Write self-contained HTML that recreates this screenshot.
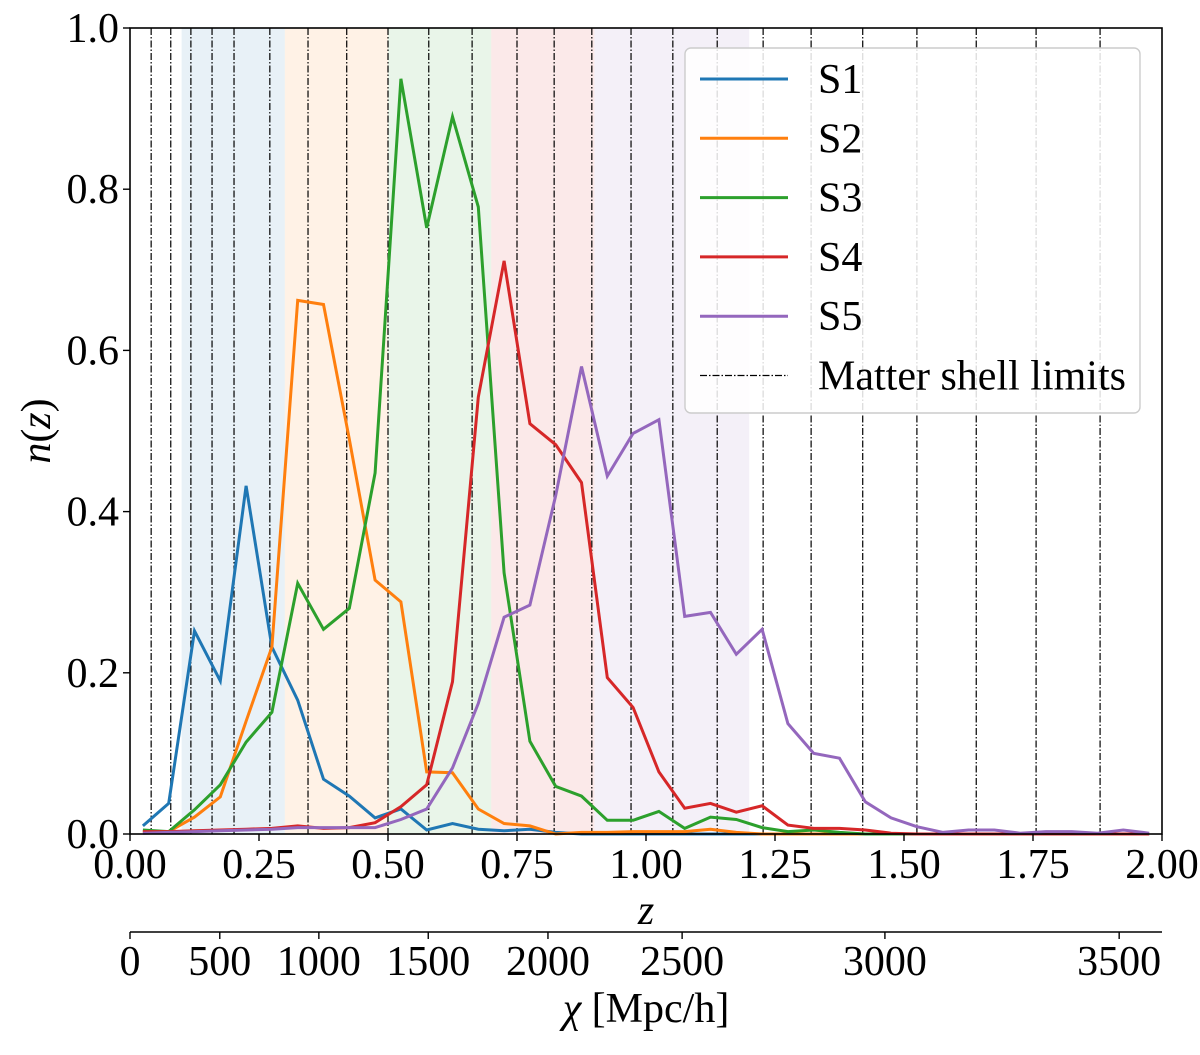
<!DOCTYPE html>
<html><head><meta charset="utf-8"><style>
body{margin:0;background:#fff}
svg text{font-family:"Liberation Serif",serif;fill:#000}
</style></head><body>
<svg id="chart" width="1200" height="1050" xmlns="http://www.w3.org/2000/svg">
<g id="bands"></g><g id="shells"></g><g id="lines"></g><g id="axes"></g><g id="legend"></g>
</svg>
<script>
const zSamples = [0.025,0.075,0.125,0.175,0.225,0.275,0.325,0.375,0.425,0.475,0.525,0.575,0.625,0.675,0.725,0.775,0.825,0.875,0.925,0.975,1.025,1.075,1.125,1.175,1.225,1.275,1.325,1.375,1.425,1.475,1.525,1.575,1.625,1.675,1.725,1.775,1.825,1.875,1.925,1.975];
const s1 = [0.01,0.038,0.252,0.19,0.432,0.232,0.166,0.068,0.047,0.02,0.031,0.005,0.013,0.006,0.004,0.006,0.002,0,0,0,0,0,0,0,0,0,0,0,0,0,0,0,0,0,0,0,0,0,0,0];
const s2 = [0.003,0.003,0.021,0.046,0.14,0.232,0.662,0.657,0.49,0.315,0.288,0.077,0.076,0.031,0.013,0.01,0,0.002,0.002,0.003,0.003,0.003,0.006,0.002,0,0,0,0,0,0,0,0,0,0,0,0,0,0,0,0];
const s3 = [0.005,0.003,0.03,0.061,0.114,0.151,0.311,0.254,0.28,0.448,0.937,0.752,0.89,0.778,0.324,0.115,0.059,0.047,0.017,0.017,0.028,0.007,0.021,0.018,0.008,0.003,0.005,0.002,0,0,0,0,0,0,0,0,0,0,0,0];
const s4 = [0.003,0.003,0.004,0.005,0.006,0.007,0.01,0.007,0.008,0.014,0.034,0.061,0.189,0.542,0.711,0.509,0.483,0.436,0.194,0.157,0.077,0.032,0.038,0.027,0.035,0.011,0.007,0.007,0.005,0.001,0,0,0,0,0,0,0,0,0,0];
const s5 = [0.001,0.002,0.003,0.004,0.005,0.006,0.008,0.008,0.008,0.008,0.018,0.031,0.082,0.162,0.269,0.284,0.42,0.58,0.444,0.497,0.514,0.27,0.275,0.223,0.254,0.137,0.1,0.094,0.04,0.02,0.009,0.002,0.005,0.005,0.001,0.003,0.003,0.001,0.005,0.001];
const seriesNames = ["S1","S2","S3","S4","S5"];
const seriesColors = ["#1f77b4","#ff7f0e","#2ca02c","#d62728","#9467bd"];
const bandEdges = [0.1,0.3,0.5,0.7,0.9,1.2];
const shellLimits = [0.041,0.079,0.118,0.159,0.2016,0.271,0.345,0.42,0.5,0.579,0.663,0.75,0.822,0.895,0.971,1.052,1.138,1.227,1.32,1.42,1.525,1.64,1.756,1.88];
const xTicks = [0,0.25,0.5,0.75,1.0,1.25,1.5,1.75,2.0];
const xTickLabels = ["0.00","0.25","0.50","0.75","1.00","1.25","1.50","1.75","2.00"];
const yTicks = [0,0.2,0.4,0.6,0.8,1.0];
const yTickLabels = ["0.0","0.2","0.4","0.6","0.8","1.0"];
const chiTickLabels = ["0","500","1000","1500","2000","2500","3000","3500"];
const chiTickZ = [0,0.174,0.366,0.578,0.81,1.07,1.463,1.917];

const X0=130,X1=1162,Y0=834,Y1=28;
const xs = z => X0 + (z/2)*(X1-X0);
const ys = v => Y0 - v*(Y0-Y1);
const NS="http://www.w3.org/2000/svg";
function mk(tag,attrs,parent){const e=document.createElementNS(NS,tag);for(const k in attrs)e.setAttribute(k,attrs[k]);parent.appendChild(e);return e;}

const bands=document.getElementById('bands');
for(let i=0;i<bandEdges.length-1;i++){
  const r=mk('rect',{x:xs(bandEdges[i]),y:Y1,width:xs(bandEdges[i+1])-xs(bandEdges[i]),height:Y0-Y1,fill:seriesColors[i],'fill-opacity':0.1},bands);
  
  
}
const shells=document.getElementById('shells');
shellLimits.forEach((z,i)=>{
  const l=mk('line',{x1:xs(z),x2:xs(z),y1:Y1,y2:Y0,stroke:'#000','stroke-width':1.2,'stroke-dasharray':'7,2,1.5,2'},shells);
  
  
});
const lines=document.getElementById('lines');
[s1,s2,s3,s4,s5].forEach((arr,si)=>{
  const pts=arr.map((v,i)=>xs(zSamples[i]).toFixed(1)+','+ys(v).toFixed(1)).join(' ');
  const p=mk('polyline',{points:pts,fill:'none',stroke:seriesColors[si],'stroke-width':3,'stroke-linejoin':'miter'},lines);
  
  
});
const axes=document.getElementById('axes');
const frame=mk('rect',{x:X0,y:Y1,width:X1-X0,height:Y0-Y1,fill:'none',stroke:'#000','stroke-width':1.6},axes);


xTicks.forEach((z,i)=>{
  mk('line',{x1:xs(z),x2:xs(z),y1:Y0,y2:Y0+7,stroke:'#000','stroke-width':1.4},axes);
  const t=mk('text',{x:xs(z),y:Y0+44,'text-anchor':'middle','font-size':42},axes);
  t.textContent=xTickLabels[i];
  
  
});
yTicks.forEach((v,i)=>{
  mk('line',{x1:X0-7,x2:X0,y1:ys(v),y2:ys(v),stroke:'#000','stroke-width':1.4},axes);
  const t=mk('text',{x:X0-11,y:ys(v)+14,'text-anchor':'end','font-size':42},axes);
  t.textContent=yTickLabels[i];
  
  
});
const xl=mk('text',{x:646,y:924,'text-anchor':'middle','font-size':42,'font-style':'italic'},axes);
xl.textContent='z';


const yl=mk('text',{x:0,y:0,'text-anchor':'middle','font-size':42,transform:'translate(50,431) rotate(-90)'},axes);
yl.innerHTML='<tspan font-style="italic">n</tspan>(<tspan font-style="italic">z</tspan>)';


const ca=mk('line',{x1:X0,x2:X1,y1:932,y2:932,stroke:'#000','stroke-width':1.6},axes);


chiTickZ.forEach((z,i)=>{
  mk('line',{x1:xs(z),x2:xs(z),y1:932,y2:939,stroke:'#000','stroke-width':1.4},axes);
  const t=mk('text',{x:xs(z),y:975,'text-anchor':'middle','font-size':42},axes);
  t.textContent=chiTickLabels[i];
  
  
});
const cl=mk('text',{x:646,y:1022,'text-anchor':'middle','font-size':42},axes);
cl.innerHTML='<tspan font-style="italic">χ</tspan> [Mpc/h]';



const lg=document.getElementById('legend');
const box=mk('rect',{x:685,y:48,width:455,height:365,rx:6,fill:'#fff','fill-opacity':0.85,stroke:'#ccc','stroke-width':1.4},lg);


const legLabels=seriesNames.concat(['Matter shell limits']);
legLabels.forEach((name,i)=>{
  const y=79+i*59.3;
  const g=mk('g',{},lg);
  
  
  if(i<5) mk('line',{x1:700,x2:788,y1:y,y2:y,stroke:seriesColors[i],'stroke-width':3},g);
  else mk('line',{x1:700,x2:788,y1:y,y2:y,stroke:'#000','stroke-width':1.2,'stroke-dasharray':'7,2,1.5,2'},g);
  const t=mk('text',{x:818,y:y+14,'font-size':42},g);
  t.textContent=name;
});
</script>
</body></html>
